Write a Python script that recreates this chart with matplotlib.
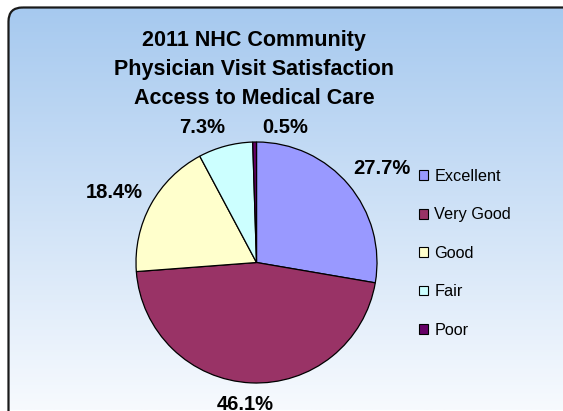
import numpy as np
import matplotlib.pyplot as plt
from matplotlib.patches import FancyBboxPatch, Rectangle
import matplotlib.colors as mcolors

plt.rcParams["font.family"] = ["Liberation Sans", "DejaVu Sans"]

# ── Data ──────────────────────────────────────────────────────────────────────
CATEGORIES = ["Excellent", "Very Good", "Good", "Fair", "Poor"]
PERCENTS = [27.7, 46.1, 18.4, 7.3, 0.5]
COLORS = ["#9999FF", "#993366", "#FFFFCC", "#CCFFFF", "#660066"]
TITLE = "2011 NHC Community\nPhysician Visit Satisfaction\nAccess to Medical Care"

# label centres, in pie radii from the centre
LABEL_XY = [(1.04, 0.78), (-0.095, -1.175), (-1.18, 0.577),
            (-0.452, 1.124), (0.236, 1.124)]

W, H = 563, 411
fig = plt.figure(figsize=(W / 100, H / 100), dpi=100)
fig.patch.set_facecolor("white")


def fbox(x, y, w, h):
    """pixel box (top-left origin) -> figure fraction rect"""
    return [x / W, 1 - (y + h) / H, w / W, h / H]


# ── Background panel with vertical gradient ───────────────────────────────────
bg = fig.add_axes([0, 0, 1, 1])
bg.set_xlim(0, W)
bg.set_ylim(H, 0)
bg.axis("off")

top = np.array(mcolors.to_rgb("#A6C9EF"))
bot = np.array(mcolors.to_rgb("#F7FAFE"))
t = np.linspace(0, 1, 256)[:, None, None]
grad = top * (1 - t) + bot * t
grad = np.repeat(grad, 2, axis=1)

box = FancyBboxPatch((8.5, 7.5), 570, 420, boxstyle="round,pad=0,rounding_size=14",
                     facecolor="none", edgecolor="#1a1a1a", lw=1.6, zorder=3)
bg.add_patch(box)
im = bg.imshow(grad, extent=(8.5, 579, 410, 7.5), aspect="auto", zorder=1)
im.set_clip_path(box)

# ── Pie ──────────────────────────────────────────────────────────────────────
ax = fig.add_axes(fbox(136, 142, 241, 241))
wedges, _ = ax.pie(PERCENTS, colors=COLORS, startangle=90, counterclock=False,
                   radius=1.0, wedgeprops=dict(edgecolor="black", linewidth=0.9))
ax.set_xlim(-1, 1)
ax.set_ylim(-1, 1)
ax.set_aspect("equal")
ax.axis("off")

for pct, (lx, ly) in zip(PERCENTS, LABEL_XY):
    ax.text(lx, ly, f"{pct:.1f}%", ha="center", va="center",
            fontsize=14.5, fontweight="bold", color="black", clip_on=False)

fig.text(254 / W, 1 - 69.5 / H, TITLE, ha="center", va="center",
         fontsize=15.5, fontweight="bold", linespacing=1.5)

# ── Legend ───────────────────────────────────────────────────────────────────
handles = [Rectangle((0, 0), 1, 1, facecolor=c, edgecolor="black", lw=0.8)
           for c in COLORS]
fig.legend(handles, CATEGORIES, loc="upper left",
           bbox_to_anchor=(419 / W, 1 - 169 / H), frameon=False,
           fontsize=11.7, handlelength=0.55, handleheight=0.55,
           handletextpad=0.4, labelspacing=1.44, borderpad=0,
           borderaxespad=0)

fig.savefig("out.png", dpi=100)
